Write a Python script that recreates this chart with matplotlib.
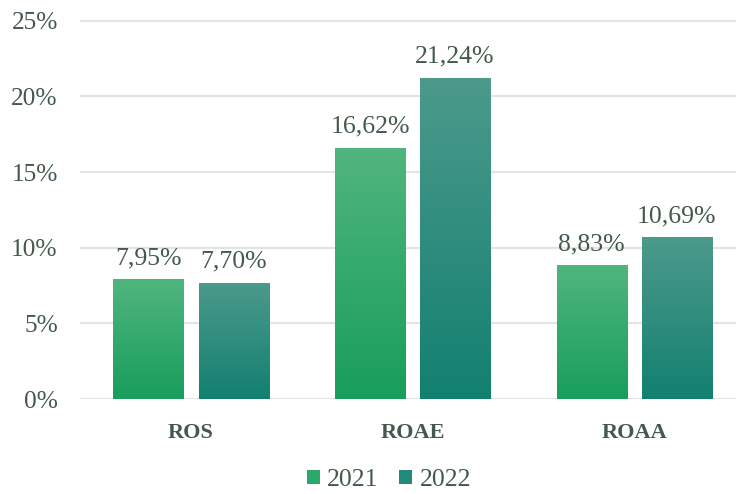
import numpy as np
import matplotlib
matplotlib.use("Agg")
import matplotlib.pyplot as plt
from matplotlib.colors import LinearSegmentedColormap
from matplotlib.patches import Patch
from matplotlib.ticker import FuncFormatter

categories = ["ROS", "ROAE", "ROAA"]
years = ["2021", "2022"]
values_2021 = [7.95, 16.62, 8.83]
values_2022 = [7.70, 21.24, 10.69]
yticks = [0, 5, 10, 15, 20, 25]

text_color = "#44594b"
grad_2021 = ("#189e5c", "#50b57e")   # bottom, top
grad_2022 = ("#128070", "#4c9a8b")
font = "Liberation Serif"

fig = plt.figure(figsize=(7.36, 4.94), dpi=100)
ax = fig.add_axes([80 / 736, 1 - 399 / 494, 1 - 80 / 736, (399 - 20) / 494])

x = np.arange(len(categories))
w = 0.316
off = 0.192

grad = np.linspace(0, 1, 256).reshape(-1, 1)

def gradient_bars(xpos, vals, cols):
    bars = ax.bar(xpos, vals, width=w, facecolor="none", edgecolor="none", zorder=3)
    cmap = LinearSegmentedColormap.from_list("g", list(cols))
    for b in bars:
        x0, y0 = b.get_x(), b.get_y()
        im = ax.imshow(grad, cmap=cmap, aspect="auto", origin="lower",
                       extent=[x0, x0 + b.get_width(), y0, y0 + b.get_height()],
                       zorder=3, interpolation="bilinear")
        im.set_clip_path(b)
    return bars

b1 = gradient_bars(x - off, values_2021, grad_2021)
b2 = gradient_bars(x + off, values_2022, grad_2022)

for bars, vals in ((b1, values_2021), (b2, values_2022)):
    for b, v in zip(bars, vals):
        ax.annotate(f"{v:.2f}%".replace(".", ","),
                    (b.get_x() + b.get_width() / 2, v),
                    xytext=(0, 7), textcoords="offset points",
                    ha="center", va="bottom", fontsize=18.5,
                    family=font, color=text_color, zorder=4)

ax.set_xlim(-0.501, 2.46)
ax.set_ylim(0, 25.05)
ax.set_yticks(yticks)
ax.yaxis.set_major_formatter(FuncFormatter(lambda v, p: f"{int(v)}%"))
ax.set_xticks(x)
ax.set_xticklabels(categories)
for lab in ax.get_xticklabels():
    lab.set_fontfamily(font)
    lab.set_fontweight("bold")
    lab.set_fontsize(16)
    lab.set_color(text_color)
for lab in ax.get_yticklabels():
    lab.set_fontfamily(font)
    lab.set_fontsize(18.3)
    lab.set_color(text_color)
ax.tick_params(axis="both", length=0)
ax.tick_params(axis="y", pad=16)
ax.tick_params(axis="x", pad=17)
ax.grid(axis="y", color="#e1e6e3", linewidth=1.6, zorder=0)
ax.set_axisbelow(True)
for s in ax.spines.values():
    s.set_visible(False)

handles = [Patch(facecolor="#2aa86a", edgecolor="none"),
           Patch(facecolor="#23897b", edgecolor="none")]
leg = fig.legend(handles, years, loc="center", bbox_to_anchor=(389 / 736, 1 - 480 / 494),
                 ncol=2, frameon=False, handlelength=0.5, handleheight=0.5,
                 handletextpad=0.3, columnspacing=0.8,
                 prop={"family": font, "size": 18.5})
for t in leg.get_texts():
    t.set_color(text_color)

fig.savefig("out.png", dpi=100)
